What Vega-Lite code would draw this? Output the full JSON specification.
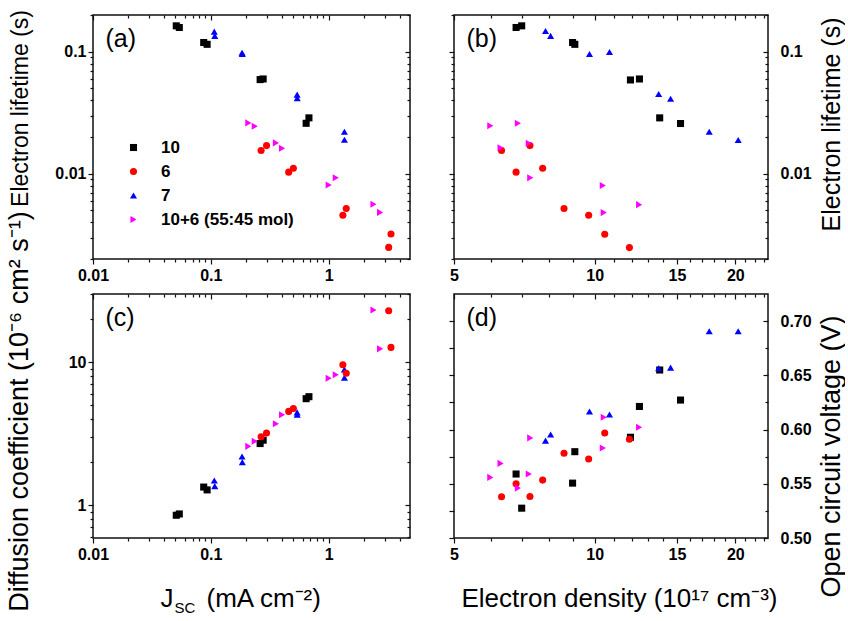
{
  "$schema": "https://vega.github.io/schema/vega-lite/v6.json",
  "background": "white",
  "padding": {"left": 4, "top": 6, "right": 0, "bottom": 0},
  "config": {
    "view": {"stroke": "#111111", "strokeWidth": 1.5},
    "axis": {
      "labelFont": "Liberation Sans", "labelFontSize": 16, "labelFontWeight": "bold", "labelColor": "black",
      "titleFont": "Liberation Sans", "titleFontSize": 24, "titleFontWeight": "normal", "titleColor": "black",
      "grid": false, "domain": false, "tickColor": "#111111", "tickWidth": 1.2,
      "labelFlush": false, "labelOverlap": false, "labelBound": false
    },
    "legend": {
      "orient": "none", "legendX": 32, "legendY": 124, "padding": 0,
      "labelFont": "Liberation Sans", "labelFontSize": 17, "labelFontWeight": "bold", "labelColor": "black",
      "symbolSize": 50, "rowPadding": 6, "labelOffset": 19
    }
  },
  "datasets": {
    "jsc": [
      {"series": "10", "jsc": 0.0509, "tau": 0.163, "D": 0.851},
      {"series": "10", "jsc": 0.054, "tau": 0.158, "D": 0.869},
      {"series": "10", "jsc": 0.087, "tau": 0.119, "D": 1.34},
      {"series": "10", "jsc": 0.093, "tau": 0.115, "D": 1.28},
      {"series": "10", "jsc": 0.262, "tau": 0.0591, "D": 2.70},
      {"series": "10", "jsc": 0.278, "tau": 0.0598, "D": 2.85},
      {"series": "10", "jsc": 0.644, "tau": 0.0259, "D": 5.56},
      {"series": "10", "jsc": 0.68, "tau": 0.0287, "D": 5.74},
      {"series": "7", "jsc": 0.107, "tau": 0.146, "D": 1.49},
      {"series": "7", "jsc": 0.108, "tau": 0.135, "D": 1.36},
      {"series": "7", "jsc": 0.184, "tau": 0.098, "D": 2.19},
      {"series": "7", "jsc": 0.185, "tau": 0.0957, "D": 2.0},
      {"series": "7", "jsc": 0.54, "tau": 0.0445, "D": 4.46},
      {"series": "7", "jsc": 0.541, "tau": 0.0417, "D": 4.29},
      {"series": "7", "jsc": 1.36, "tau": 0.0221, "D": 8.9},
      {"series": "7", "jsc": 1.361, "tau": 0.019, "D": 7.8},
      {"series": "6", "jsc": 0.267, "tau": 0.0155, "D": 3.01},
      {"series": "6", "jsc": 0.297, "tau": 0.017, "D": 3.2},
      {"series": "6", "jsc": 0.458, "tau": 0.0103, "D": 4.53},
      {"series": "6", "jsc": 0.502, "tau": 0.0111, "D": 4.75},
      {"series": "6", "jsc": 1.32, "tau": 0.00456, "D": 9.6},
      {"series": "6", "jsc": 1.41, "tau": 0.00518, "D": 8.38},
      {"series": "6", "jsc": 3.23, "tau": 0.00249, "D": 22.9},
      {"series": "6", "jsc": 3.38, "tau": 0.00321, "D": 12.7},
      {"series": "10+6 (55:45 mol)", "jsc": 0.208, "tau": 0.0261, "D": 2.58},
      {"series": "10+6 (55:45 mol)", "jsc": 0.236, "tau": 0.0245, "D": 2.8},
      {"series": "10+6 (55:45 mol)", "jsc": 0.357, "tau": 0.0179, "D": 3.71},
      {"series": "10+6 (55:45 mol)", "jsc": 0.402, "tau": 0.0162, "D": 4.29},
      {"series": "10+6 (55:45 mol)", "jsc": 1.0, "tau": 0.00807, "D": 7.73},
      {"series": "10+6 (55:45 mol)", "jsc": 1.15, "tau": 0.00927, "D": 8.17},
      {"series": "10+6 (55:45 mol)", "jsc": 2.4, "tau": 0.00562, "D": 23.2},
      {"series": "10+6 (55:45 mol)", "jsc": 2.73, "tau": 0.00482, "D": 12.4}
    ],
    "density": [
      {"series": "10", "n": 6.79, "tau": 0.158, "voc": 0.559},
      {"series": "10", "n": 6.98, "tau": 0.163, "voc": 0.5275},
      {"series": "10", "n": 8.97, "tau": 0.119, "voc": 0.5506},
      {"series": "10", "n": 9.07, "tau": 0.115, "voc": 0.5796},
      {"series": "10", "n": 11.93, "tau": 0.0587, "voc": 0.5929},
      {"series": "10", "n": 12.47, "tau": 0.0598, "voc": 0.6213},
      {"series": "10", "n": 13.78, "tau": 0.0287, "voc": 0.6549},
      {"series": "10", "n": 15.27, "tau": 0.0258, "voc": 0.6272},
      {"series": "7", "n": 7.85, "tau": 0.148, "voc": 0.5898},
      {"series": "7", "n": 8.05, "tau": 0.135, "voc": 0.5954},
      {"series": "7", "n": 9.75, "tau": 0.0957, "voc": 0.6167},
      {"series": "7", "n": 10.76, "tau": 0.0994, "voc": 0.6139},
      {"series": "7", "n": 13.71, "tau": 0.045, "voc": 0.6565},
      {"series": "7", "n": 14.54, "tau": 0.0412, "voc": 0.6571},
      {"series": "7", "n": 17.59, "tau": 0.0221, "voc": 0.6907},
      {"series": "7", "n": 20.29, "tau": 0.0189, "voc": 0.6907},
      {"series": "6", "n": 6.32, "tau": 0.0155, "voc": 0.538},
      {"series": "6", "n": 7.27, "tau": 0.017, "voc": 0.5383},
      {"series": "6", "n": 6.79, "tau": 0.0103, "voc": 0.55},
      {"series": "6", "n": 7.74, "tau": 0.0111, "voc": 0.5534},
      {"series": "6", "n": 8.6, "tau": 0.00518, "voc": 0.5781},
      {"series": "6", "n": 9.71, "tau": 0.00456, "voc": 0.5728},
      {"series": "6", "n": 10.51, "tau": 0.00319, "voc": 0.5969},
      {"series": "6", "n": 11.87, "tau": 0.00248, "voc": 0.591},
      {"series": "10+6 (55:45 mol)", "n": 5.98, "tau": 0.0247, "voc": 0.5559},
      {"series": "10+6 (55:45 mol)", "n": 6.85, "tau": 0.0259, "voc": 0.546},
      {"series": "10+6 (55:45 mol)", "n": 6.29, "tau": 0.0163, "voc": 0.5688},
      {"series": "10+6 (55:45 mol)", "n": 7.23, "tau": 0.0178, "voc": 0.559},
      {"series": "10+6 (55:45 mol)", "n": 7.28, "tau": 0.00927, "voc": 0.5923},
      {"series": "10+6 (55:45 mol)", "n": 10.41, "tau": 0.00802, "voc": 0.583},
      {"series": "10+6 (55:45 mol)", "n": 10.46, "tau": 0.0048, "voc": 0.6114},
      {"series": "10+6 (55:45 mol)", "n": 12.45, "tau": 0.00558, "voc": 0.6022}
    ]
  },
  "columns": 2,
  "spacing": {"row": 35, "column": 44},
  "bounds": "flush",
  "concat": [
    {
      "width": 317, "height": 244,
      "data": {"name": "jsc"},
      "layer": [
        {
          "mark": {"type": "point", "filled": true, "opacity": 1, "size": 50},
          "encoding": {
            "x": {"field": "jsc", "type": "quantitative",
              "scale": {"type": "log", "domain": [0.01, 4.9], "nice": false},
              "axis": {"orient": "bottom", "title": null,
                "values": [0.01,0.02,0.03,0.04,0.05,0.06,0.07,0.08,0.09,0.1,0.2,0.3,0.4,0.5,0.6,0.7,0.8,0.9,1,2,3,4],
                "labelExpr": "datum.value == 0.01 ? '0.01' : datum.value == 0.1 ? '0.1' : datum.value == 1 ? '1' : ''",
                "tickSize": {"condition": {"test": "indexof([0.01,0.1,1], datum.value) >= 0", "value": 5}, "value": 3},
                "labelPadding": 3}},
            "y": {"field": "tau", "type": "quantitative",
              "scale": {"type": "log", "domain": [0.002, 0.2], "nice": false},
              "axis": {"orient": "left", "title": "Electron lifetime (s)", "titleFontSize": 23,
                "titleX": -66, "titleY": 93, "titleBaseline": "alphabetic", "titleAngle": -90, "titleAlign": "center",
                "values": [0.002,0.003,0.004,0.005,0.006,0.007,0.008,0.009,0.01,0.02,0.03,0.04,0.05,0.06,0.07,0.08,0.09,0.1,0.2],
                "labelExpr": "datum.value == 0.01 ? '0.01' : datum.value == 0.1 ? '0.1' : ''",
                "tickSize": {"condition": {"test": "indexof([0.01,0.1], datum.value) >= 0", "value": 5}, "value": 3},
                "labelPadding": 2}},
            "color": {"field": "series", "type": "nominal",
              "scale": {"domain": ["10", "6", "7", "10+6 (55:45 mol)"], "range": ["#000000", "#ff0000", "#0000ff", "#ff00ff"]},
              "legend": {"title": null}},
            "shape": {"field": "series", "type": "nominal",
              "scale": {"domain": ["10", "6", "7", "10+6 (55:45 mol)"], "range": ["square", "circle", "triangle-up", "triangle-right"]},
              "legend": {"title": null}}
          }
        },
        {
          "mark": {"type": "point", "opacity": 0},
          "encoding": {
            "x": {"field": "jsc", "type": "quantitative",
              "scale": {"type": "log", "domain": [0.01, 4.9], "nice": false},
              "axis": {"orient": "top", "labels": false,
                "title": "(a)", "titleFontSize": 25, "titleAlign": "left", "titleBaseline": "alphabetic", "titleX": 12, "titleY": 31, "titleAngle": 0,
                "values": [0.01,0.02,0.03,0.04,0.05,0.06,0.07,0.08,0.09,0.1,0.2,0.3,0.4,0.5,0.6,0.7,0.8,0.9,1,2,3,4],
                "tickSize": {"condition": {"test": "indexof([0.01,0.1,1], datum.value) >= 0", "value": -5}, "value": -3}}},
            "y": {"field": "tau", "type": "quantitative",
              "scale": {"type": "log", "domain": [0.002, 0.2], "nice": false},
              "axis": {"orient": "right", "title": null, "labels": false,
                "values": [0.002,0.003,0.004,0.005,0.006,0.007,0.008,0.009,0.01,0.02,0.03,0.04,0.05,0.06,0.07,0.08,0.09,0.1,0.2],
                "tickSize": {"condition": {"test": "indexof([0.01,0.1], datum.value) >= 0", "value": -5}, "value": -3}}}
          }
        }
      ],
      "resolve": {"axis": {"x": "independent", "y": "independent"}}
    },
    {
      "width": 314, "height": 244,
      "data": {"name": "density"},
      "layer": [
        {
          "mark": {"type": "point", "filled": true, "opacity": 1, "size": 50},
          "encoding": {
            "x": {"field": "n", "type": "quantitative",
              "scale": {"type": "log", "domain": [5, 23.5], "nice": false},
              "axis": {"orient": "bottom", "title": null,
                "values": [5,6,7,8,9,10,11,12,13,14,15,16,17,18,19,20,21,22,23],
                "labelExpr": "indexof([5,10,15,20], datum.value) >= 0 ? format(datum.value, 'd') : ''",
                "tickSize": {"condition": {"test": "indexof([5,10,15,20], datum.value) >= 0", "value": 5}, "value": 3},
                "labelPadding": 3}},
            "y": {"field": "tau", "type": "quantitative",
              "scale": {"type": "log", "domain": [0.002, 0.2], "nice": false},
              "axis": {"orient": "right", "title": "Electron lifetime (s)", "titleFontSize": 25,
                "titleX": 71, "titleY": 109, "titleBaseline": "alphabetic", "titleAngle": -90, "titleAlign": "center",
                "values": [0.002,0.003,0.004,0.005,0.006,0.007,0.008,0.009,0.01,0.02,0.03,0.04,0.05,0.06,0.07,0.08,0.09,0.1,0.2],
                "labelExpr": "datum.value == 0.01 ? '0.01' : datum.value == 0.1 ? '0.1' : ''",
                "tickSize": {"condition": {"test": "indexof([0.01,0.1], datum.value) >= 0", "value": -5}, "value": -3},
                "labelPadding": 17}},
            "color": {"field": "series", "type": "nominal",
              "scale": {"domain": ["10", "6", "7", "10+6 (55:45 mol)"], "range": ["#000000", "#ff0000", "#0000ff", "#ff00ff"]},
              "legend": {"title": null}},
            "shape": {"field": "series", "type": "nominal",
              "scale": {"domain": ["10", "6", "7", "10+6 (55:45 mol)"], "range": ["square", "circle", "triangle-up", "triangle-right"]},
              "legend": {"title": null}}
          }
        },
        {
          "mark": {"type": "point", "opacity": 0},
          "encoding": {
            "x": {"field": "n", "type": "quantitative",
              "scale": {"type": "log", "domain": [5, 23.5], "nice": false},
              "axis": {"orient": "top", "labels": false,
                "title": "(b)", "titleFontSize": 25, "titleAlign": "left", "titleBaseline": "alphabetic", "titleX": 12, "titleY": 31, "titleAngle": 0,
                "values": [5,6,7,8,9,10,11,12,13,14,15,16,17,18,19,20,21,22,23],
                "tickSize": {"condition": {"test": "indexof([5,10,15,20], datum.value) >= 0", "value": -5}, "value": -3}}},
            "y": {"field": "tau", "type": "quantitative",
              "scale": {"type": "log", "domain": [0.002, 0.2], "nice": false},
              "axis": {"orient": "left", "title": null, "labels": false,
                "values": [0.002,0.003,0.004,0.005,0.006,0.007,0.008,0.009,0.01,0.02,0.03,0.04,0.05,0.06,0.07,0.08,0.09,0.1,0.2],
                "tickSize": {"condition": {"test": "indexof([0.01,0.1], datum.value) >= 0", "value": 5}, "value": 3}}}
          }
        }
      ],
      "resolve": {"axis": {"x": "independent", "y": "independent"}}
    },
    {
      "width": 317, "height": 244,
      "data": {"name": "jsc"},
      "layer": [
        {
          "mark": {"type": "point", "filled": true, "opacity": 1, "size": 50},
          "encoding": {
            "x": {"field": "jsc", "type": "quantitative",
              "scale": {"type": "log", "domain": [0.01, 4.9], "nice": false},
              "axis": {"orient": "bottom", "title": "(mA cm\u207b\u00b2)", "titleFontSize": 26,
                "titleAlign": "left", "titleX": 113, "titleY": 68, "titleBaseline": "alphabetic",
                "values": [0.01,0.02,0.03,0.04,0.05,0.06,0.07,0.08,0.09,0.1,0.2,0.3,0.4,0.5,0.6,0.7,0.8,0.9,1,2,3,4],
                "labelExpr": "datum.value == 0.01 ? '0.01' : datum.value == 0.1 ? '0.1' : datum.value == 1 ? '1' : ''",
                "tickSize": {"condition": {"test": "indexof([0.01,0.1,1], datum.value) >= 0", "value": 5}, "value": 3},
                "labelPadding": 3}},
            "y": {"field": "D", "type": "quantitative",
              "scale": {"type": "log", "domain": [0.59, 30], "nice": false},
              "axis": {"orient": "left", "title": "Diffusion coefficient (10\u207b\u2076 cm\u00b2 s\u207b\u00b9)", "titleFontSize": 27,
                "titleX": -66, "titleY": 117, "titleBaseline": "alphabetic", "titleAngle": -90, "titleAlign": "center",
                "values": [0.6,0.7,0.8,0.9,1,2,3,4,5,6,7,8,9,10,20,30],
                "labelExpr": "datum.value == 1 ? '1' : datum.value == 10 ? '10' : ''",
                "tickSize": {"condition": {"test": "indexof([1,10], datum.value) >= 0", "value": 5}, "value": 3},
                "labelPadding": 2}},
            "color": {"field": "series", "type": "nominal",
              "scale": {"domain": ["10", "6", "7", "10+6 (55:45 mol)"], "range": ["#000000", "#ff0000", "#0000ff", "#ff00ff"]},
              "legend": {"title": null}},
            "shape": {"field": "series", "type": "nominal",
              "scale": {"domain": ["10", "6", "7", "10+6 (55:45 mol)"], "range": ["square", "circle", "triangle-up", "triangle-right"]},
              "legend": {"title": null}}
          }
        },
        {
          "mark": {"type": "point", "opacity": 0},
          "encoding": {
            "x": {"field": "jsc", "type": "quantitative",
              "scale": {"type": "log", "domain": [0.01, 4.9], "nice": false},
              "axis": {"orient": "top", "labels": false,
                "title": "(c)", "titleFontSize": 25, "titleAlign": "left", "titleBaseline": "alphabetic", "titleX": 12, "titleY": 31, "titleAngle": 0,
                "values": [0.01,0.02,0.03,0.04,0.05,0.06,0.07,0.08,0.09,0.1,0.2,0.3,0.4,0.5,0.6,0.7,0.8,0.9,1,2,3,4],
                "tickSize": {"condition": {"test": "indexof([0.01,0.1,1], datum.value) >= 0", "value": -5}, "value": -3}}},
            "y": {"field": "D", "type": "quantitative",
              "scale": {"type": "log", "domain": [0.59, 30], "nice": false},
              "axis": {"orient": "right", "title": null, "labels": false,
                "values": [0.6,0.7,0.8,0.9,1,2,3,4,5,6,7,8,9,10,20,30],
                "tickSize": {"condition": {"test": "indexof([1,10], datum.value) >= 0", "value": -5}, "value": -3}}}
          }
        },
        {
          "mark": {"type": "point", "opacity": 0},
          "encoding": {
            "x": {"field": "jsc", "type": "quantitative",
              "scale": {"type": "log", "domain": [0.01, 4.9], "nice": false},
              "axis": {"orient": "bottom", "title": "SC", "titleFontSize": 15, "labels": false, "ticks": false,
                "titleAlign": "left", "titleX": 81, "titleY": 74, "titleBaseline": "alphabetic", "values": []}},
            "y": {"field": "D", "type": "quantitative",
              "scale": {"type": "log", "domain": [0.59, 30], "nice": false}, "axis": null}
          }
        },
        {
          "mark": {"type": "point", "opacity": 0},
          "encoding": {
            "x": {"field": "jsc", "type": "quantitative",
              "scale": {"type": "log", "domain": [0.01, 4.9], "nice": false},
              "axis": {"orient": "bottom", "title": "J", "titleFontSize": 26, "labels": false, "ticks": false,
                "titleAlign": "left", "titleX": 67, "titleY": 68, "titleBaseline": "alphabetic", "values": []}},
            "y": {"field": "D", "type": "quantitative",
              "scale": {"type": "log", "domain": [0.59, 30], "nice": false}, "axis": null}
          }
        }
      ],
      "resolve": {"axis": {"x": "independent", "y": "independent"}}
    },
    {
      "width": 314, "height": 244,
      "data": {"name": "density"},
      "layer": [
        {
          "mark": {"type": "point", "filled": true, "opacity": 1, "size": 50},
          "encoding": {
            "x": {"field": "n", "type": "quantitative",
              "scale": {"type": "log", "domain": [5, 23.5], "nice": false},
              "axis": {"orient": "bottom", "title": "Electron density (10\u00b9\u2077 cm\u207b\u00b3)", "titleFontSize": 26,
                "titleAlign": "center", "titleX": 165, "titleY": 68, "titleBaseline": "alphabetic",
                "values": [5,6,7,8,9,10,11,12,13,14,15,16,17,18,19,20,21,22,23],
                "labelExpr": "indexof([5,10,15,20], datum.value) >= 0 ? format(datum.value, 'd') : ''",
                "tickSize": {"condition": {"test": "indexof([5,10,15,20], datum.value) >= 0", "value": 5}, "value": 3},
                "labelPadding": 3}},
            "y": {"field": "voc", "type": "quantitative",
              "scale": {"type": "linear", "domain": [0.5, 0.725], "nice": false, "zero": false},
              "axis": {"orient": "right", "title": "Open circuit voltage (V)", "titleFontSize": 27,
                "titleX": 71, "titleY": 162, "titleBaseline": "alphabetic", "titleAngle": -90, "titleAlign": "center",
                "values": [0.5,0.525,0.55,0.575,0.6,0.625,0.65,0.675,0.7],
                "labelExpr": "abs(datum.value*20 - round(datum.value*20)) < 1e-6 ? format(datum.value, '.2f') : ''",
                "tickSize": {"condition": {"test": "abs(datum.value*20 - round(datum.value*20)) < 1e-6", "value": -5}, "value": -3},
                "labelPadding": 17}},
            "color": {"field": "series", "type": "nominal",
              "scale": {"domain": ["10", "6", "7", "10+6 (55:45 mol)"], "range": ["#000000", "#ff0000", "#0000ff", "#ff00ff"]},
              "legend": {"title": null}},
            "shape": {"field": "series", "type": "nominal",
              "scale": {"domain": ["10", "6", "7", "10+6 (55:45 mol)"], "range": ["square", "circle", "triangle-up", "triangle-right"]},
              "legend": {"title": null}}
          }
        },
        {
          "mark": {"type": "point", "opacity": 0},
          "encoding": {
            "x": {"field": "n", "type": "quantitative",
              "scale": {"type": "log", "domain": [5, 23.5], "nice": false},
              "axis": {"orient": "top", "labels": false,
                "title": "(d)", "titleFontSize": 25, "titleAlign": "left", "titleBaseline": "alphabetic", "titleX": 12, "titleY": 31, "titleAngle": 0,
                "values": [5,6,7,8,9,10,11,12,13,14,15,16,17,18,19,20,21,22,23],
                "tickSize": {"condition": {"test": "indexof([5,10,15,20], datum.value) >= 0", "value": -5}, "value": -3}}},
            "y": {"field": "voc", "type": "quantitative",
              "scale": {"type": "linear", "domain": [0.5, 0.725], "nice": false, "zero": false},
              "axis": {"orient": "left", "title": null, "labels": false,
                "values": [0.5,0.525,0.55,0.575,0.6,0.625,0.65,0.675,0.7],
                "tickSize": 5}}
          }
        }
      ],
      "resolve": {"axis": {"x": "independent", "y": "independent"}}
    }
  ]
}
